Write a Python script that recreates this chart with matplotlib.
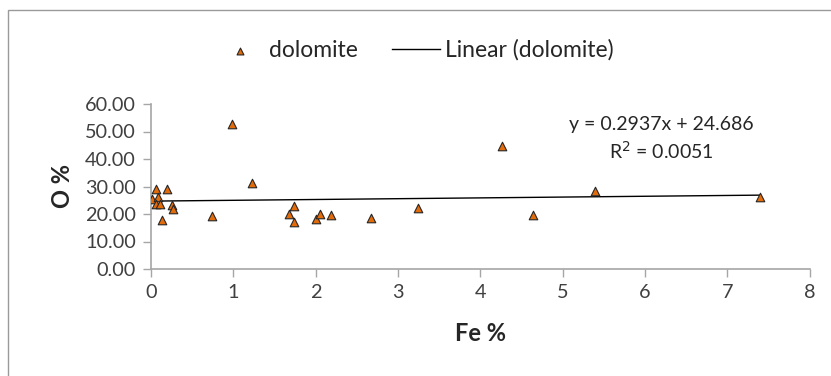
import matplotlib.pyplot as plt
import numpy as np
from matplotlib.patches import Rectangle
from matplotlib.ticker import FormatStrFormatter

plt.rcParams['font.family'] = ['Lato', 'DejaVu Sans']

# Fe % vs O % for dolomite samples
fe_pct = [0.01, 0.06, 0.09, 0.06, 0.11, 0.13, 0.20, 0.26, 0.27, 0.74, 0.98, 1.23,
          1.74, 1.68, 1.74, 2.00, 2.05, 2.19, 2.67, 3.24, 4.26, 4.64, 5.40, 7.40]
o_pct = [25.3, 29.0, 26.1, 23.6, 23.6, 17.8, 29.0, 23.3, 21.7, 19.3, 52.7, 31.2,
         22.9, 19.9, 17.2, 18.1, 20.0, 19.6, 18.5, 22.3, 44.7, 19.6, 28.5, 26.3]

# Excel linear trendline
slope = 0.2937
intercept = 24.686
r2 = 0.0051

fig = plt.figure(figsize=(8.31, 3.76), dpi=100)
ax = fig.add_axes([151 / 831, 1 - 269 / 376, (809.5 - 151) / 831, (269 - 104) / 376])

# chart border (left/top visible, rest runs off the image)
fig.patches.append(Rectangle((8 / 831, -0.1), 1.2, 1 - 10 / 376 + 0.1,
                             transform=fig.transFigure, fill=False,
                             edgecolor='#9a9a9a', linewidth=1.0))

ax.scatter(fe_pct, o_pct, marker='^', s=38, facecolor='#E36C0A',
           edgecolor='#262626', linewidth=0.8, zorder=3, label='dolomite')

xs = np.array([min(fe_pct), max(fe_pct)])
ax.plot(xs, slope * xs + intercept, color='black', linewidth=1.0,
        label='Linear (dolomite)', zorder=2)

ax.set_xlim(0, 8)
ax.set_ylim(0, 60)
ax.set_xticks(range(0, 9))
ax.set_yticks(range(0, 61, 10))
ax.yaxis.set_major_formatter(FormatStrFormatter('%.2f'))

for side in ['top', 'right']:
    ax.spines[side].set_visible(False)
for side in ['left', 'bottom']:
    ax.spines[side].set_color('#a6a6a6')
    ax.spines[side].set_linewidth(1.2)
ax.tick_params(axis='both', direction='out', length=6, width=1.0,
               color='#a6a6a6', labelsize=14.3, labelcolor='#404040', pad=5)

ax.set_xlabel('Fe %', fontsize=17, fontweight='bold', color='#262626', labelpad=15)
ax.set_ylabel('O %', fontsize=17, fontweight='bold', color='#262626', labelpad=8)

fig.text(661 / 831, 1 - 125 / 376, 'y = 0.2937x + 24.686', ha='center', va='center',
         fontsize=14, color='#262626')
fig.text(661 / 831, 1 - 151 / 376, 'R$^2$ = 0.0051', ha='center', va='center',
         fontsize=14, color='#262626')

fig.legend(loc='center', bbox_to_anchor=(415 / 831, 1 - 50 / 376), ncol=2,
           frameon=False, fontsize=16.5, handlelength=2.1, handletextpad=0.22,
           columnspacing=1.5, scatterpoints=1, markerscale=0.8,
           labelcolor='#262626')

fig.savefig('out.png', dpi=100)
